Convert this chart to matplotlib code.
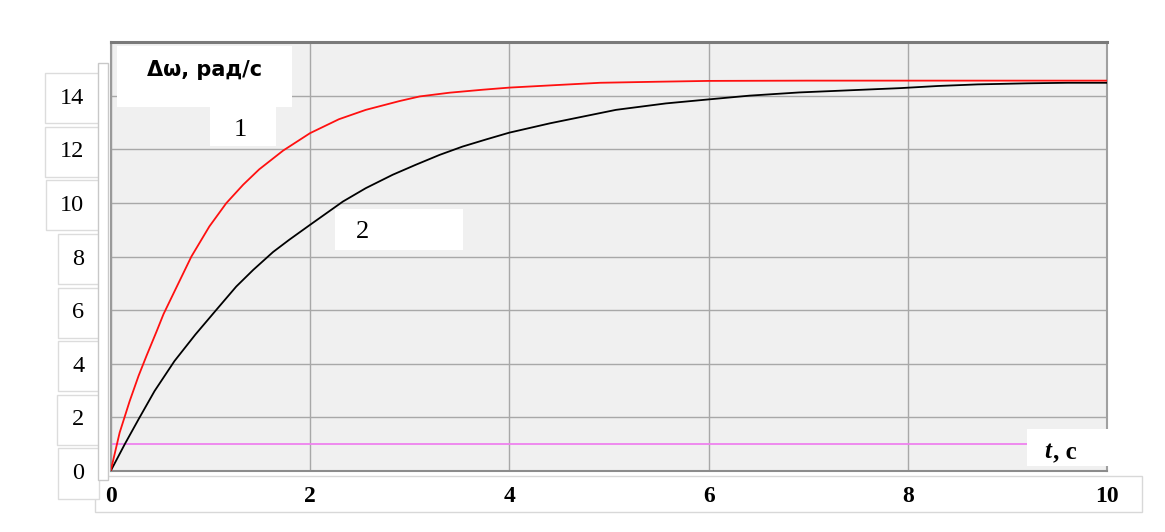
import matplotlib
matplotlib.use("Agg")
import matplotlib.pyplot as plt
from matplotlib.patches import Rectangle

# curve 1 (red)
t_red = [0, 0.09, 0.19, 0.28, 0.36, 0.46, 0.53, 0.66, 0.81, 0.99, 1.16, 1.33, 1.49, 1.73, 2.0,
         2.29, 2.56, 2.90, 3.10, 3.40, 3.73, 4.0, 4.5, 4.91, 5.5, 6.0, 7.0, 8.0, 9.0, 10.0]
w_red = [0, 1.43, 2.6, 3.55, 4.3, 5.2, 5.85, 6.85, 8.0, 9.12, 9.99, 10.68, 11.25, 11.95, 12.6,
         13.12, 13.47, 13.80, 13.97, 14.11, 14.22, 14.30, 14.40, 14.48, 14.52, 14.55, 14.56, 14.56, 14.56, 14.56]

# curve 2 (black)
t_black = [0, 0.14, 0.28, 0.44, 0.64, 0.85, 1.06, 1.26, 1.43, 1.63, 1.79, 2.0, 2.33, 2.56, 2.83,
           3.06, 3.30, 3.53, 3.77, 4.0, 4.41, 4.74, 5.07, 5.57, 6.0, 6.41, 6.91, 7.92, 8.3, 8.7,
           9.2, 9.6, 10.0]
w_black = [0, 0.99, 1.93, 2.98, 4.1, 5.09, 6.01, 6.88, 7.50, 8.17, 8.62, 9.18, 10.05, 10.55, 11.05,
           11.42, 11.79, 12.1, 12.37, 12.62, 12.97, 13.22, 13.47, 13.71, 13.86, 14.0, 14.12, 14.28, 14.36, 14.42,
           14.46, 14.48, 14.48]

# magenta reference level
w_ref = 1.0

x_ticks = [0, 2, 4, 6, 8, 10]
y_ticks = [0, 2, 4, 6, 8, 10, 12, 14]

fig = plt.figure(figsize=(11.65, 5.32), dpi=100)
ax = fig.add_axes([0.095, 0.1147, 0.8555, 0.8063])
ax.set_facecolor('#f0f0f0')
ax.set_xlim(0, 10)
ax.set_ylim(0, 16)

ax.set_xticks(x_ticks)
ax.set_yticks(y_ticks)
ax.set_xticklabels([str(v) for v in x_ticks], family='Liberation Serif', fontsize=17, weight='bold')
ax.set_yticklabels([str(v) for v in y_ticks], family='Liberation Serif', fontsize=17.5)
ax.tick_params(axis='x', length=0, pad=11)
ax.tick_params(axis='y', length=0, pad=19)
for lab in ax.get_yticklabels():
    lab.set_bbox(dict(boxstyle='square,pad=0.6', fc='white', ec='#dcdcdc', lw=1))
ax.grid(True, color='#a8a8a8', lw=1)
ax.set_axisbelow(True)

ax.spines['top'].set_color('#7a7a7a')
ax.spines['top'].set_linewidth(2.2)
ax.spines['left'].set_color('#9a9a9a')
ax.spines['left'].set_linewidth(1.5)
ax.spines['bottom'].set_color('#8c8c8c')
ax.spines['bottom'].set_linewidth(1.5)
ax.spines['right'].set_color('#a0a0a0')
ax.spines['right'].set_linewidth(1.5)

ax.axhline(w_ref, color='#ee82ee', lw=1.3, zorder=2)
ax.plot(t_black, w_black, color='black', lw=1.3, zorder=3)
ax.plot(t_red, w_red, color='#ff1010', lw=1.3, zorder=3)

# white label boxes
boxes = [(0.063, 13.58, 1.757, 2.27), (0.998, 12.12, 0.662, 1.46),
         (2.25, 8.23, 1.285, 1.54), (9.195, 0.175, 0.825, 1.375)]
for x0, y0, w, h in boxes:
    ax.add_patch(Rectangle((x0, y0), w, h, fc='white', ec='none', zorder=4, clip_on=False))

ax.text(0.946, 14.96, 'Δω, рад/с', fontsize=15, family='DejaVu Sans', weight='bold',
        ha='center', va='center', zorder=5)
ax.text(1.30, 12.72, '1', fontsize=19, family='Liberation Serif', ha='center', va='center', zorder=5)
ax.text(2.53, 8.92, '2', fontsize=19, family='Liberation Serif', ha='center', va='center', zorder=5)
ax.text(9.40, 0.72, 't', fontsize=18, family='Liberation Serif', style='italic',
        weight='bold', ha='center', va='center', zorder=5)
ax.text(9.45, 0.72, ', с', fontsize=18, family='Liberation Serif', weight='bold',
        ha='left', va='center', zorder=5)

# thin strip left of the plot
fig.patches.append(Rectangle((98 / 1165, 1 - 480 / 532), 10 / 1165, 417 / 532,
                             transform=fig.transFigure, fc='white', ec='#c8c8c8', lw=1))
# outline round the x tick labels
fig.patches.append(Rectangle((95 / 1165, 1 - 512 / 532), 1047 / 1165, 36 / 532,
                             transform=fig.transFigure, fc='white', ec='#d8d8d8', lw=1, zorder=-1))

fig.savefig('out.png', dpi=100)
